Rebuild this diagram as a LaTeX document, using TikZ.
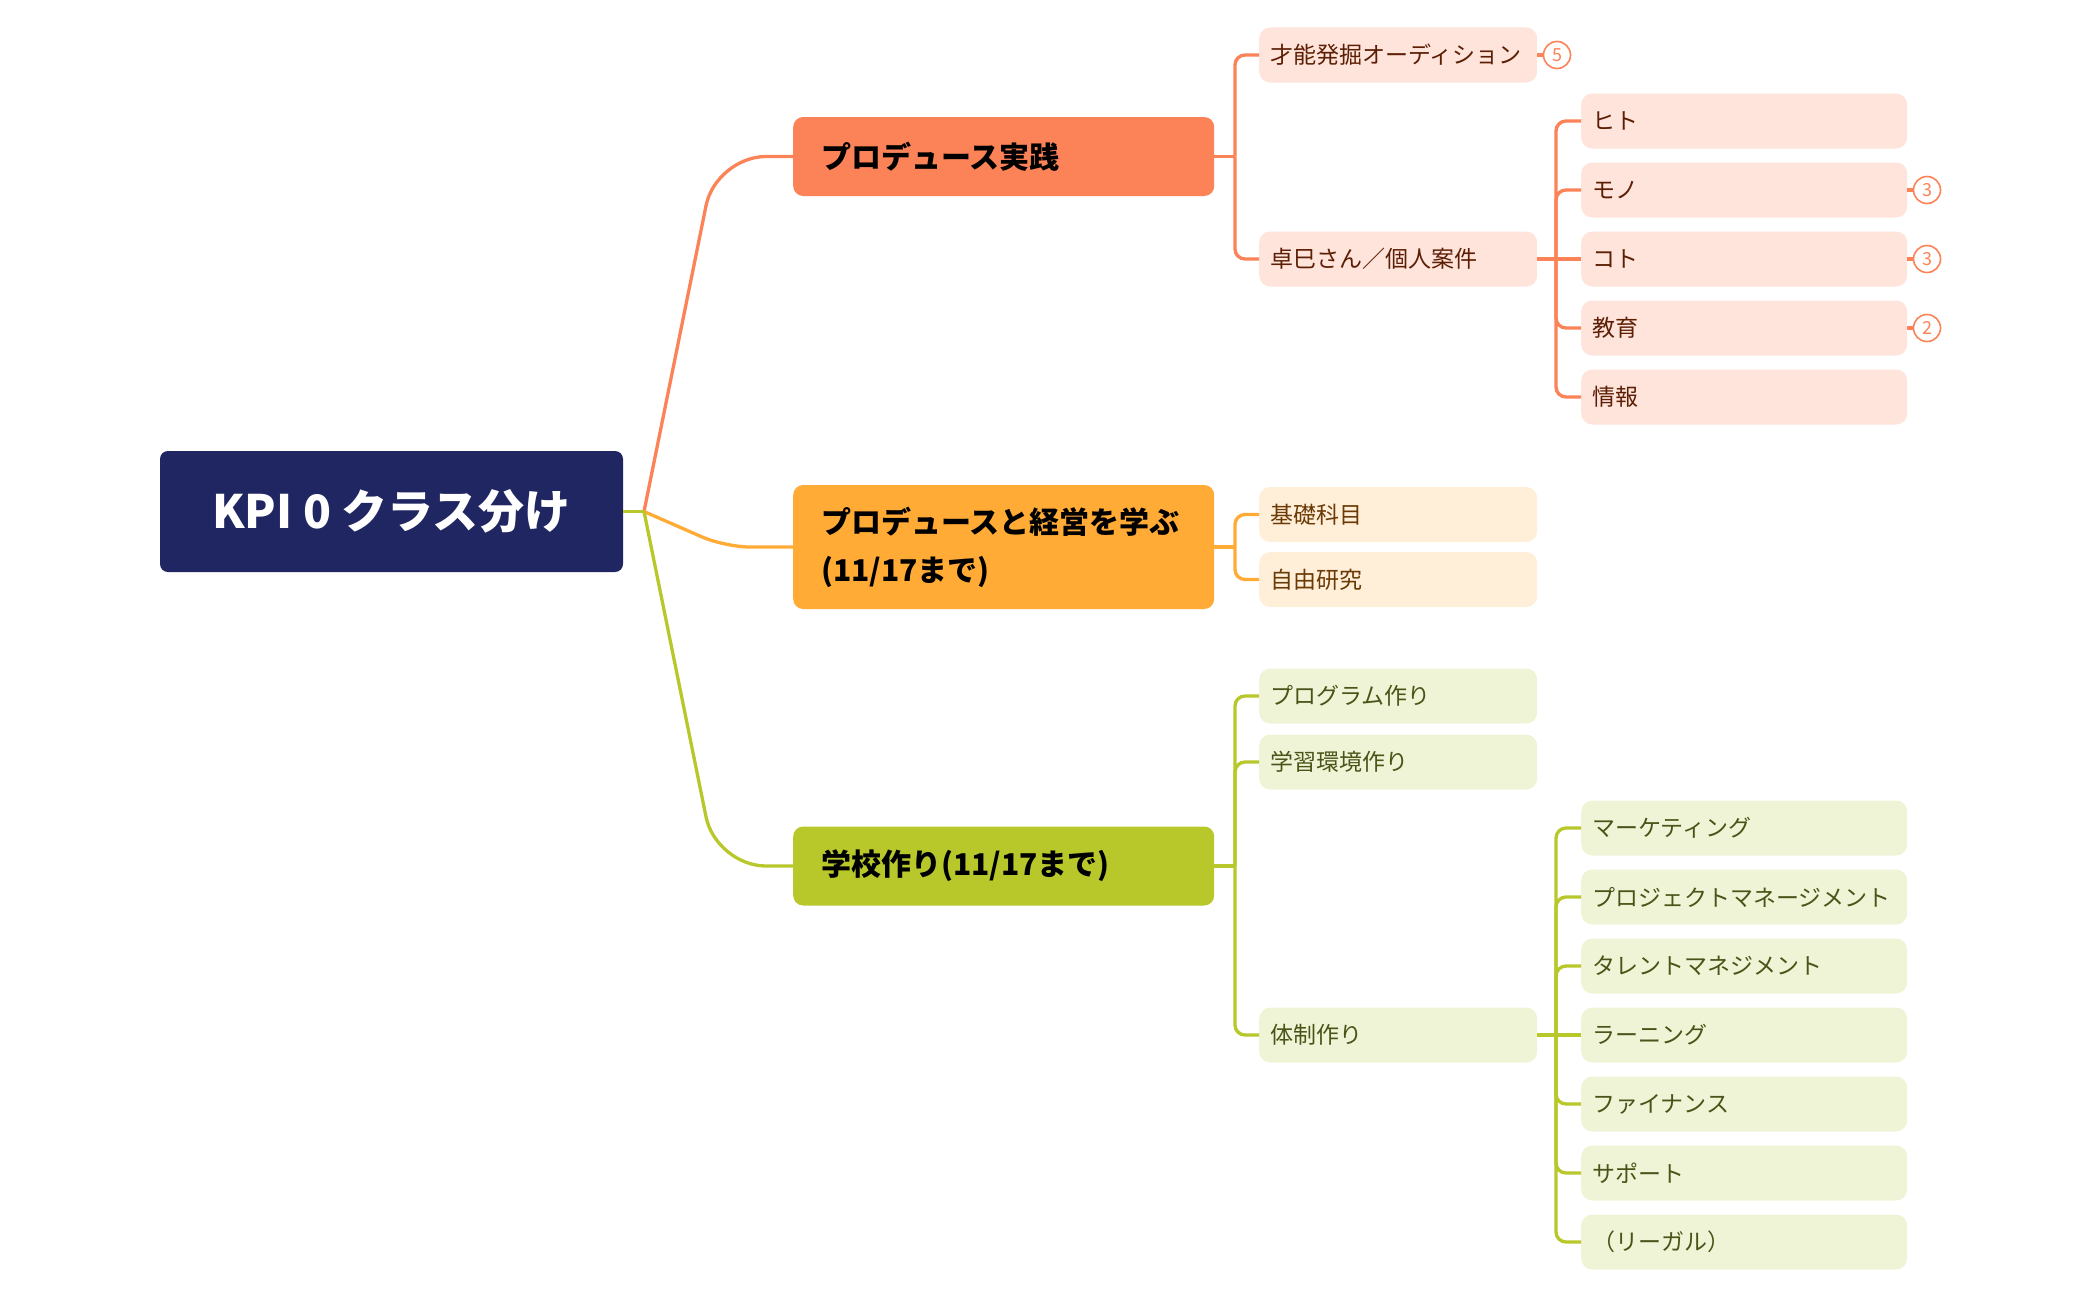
\documentclass[tikz,border=0pt]{standalone}
\usepackage{fontspec}
\setmainfont{Noto Sans CJK JP}

\definecolor{kpinavy}{HTML}{202662}
\definecolor{prodcoral}{HTML}{FC8257}
\definecolor{keieiorange}{HTML}{FFAB36}
\definecolor{schoolgreen}{HTML}{B8C82B}
\definecolor{prodlight}{HTML}{FEE4DA}
\definecolor{keieilight}{HTML}{FFEED8}
\definecolor{schoollight}{HTML}{F0F4D6}
\definecolor{prodtext}{HTML}{5C1E04}
\definecolor{keieitext}{HTML}{6B3A05}
\definecolor{schooltext}{HTML}{4A5418}

\begin{document}
\begin{tikzpicture}[x=1pt, y=-1pt,
  rootbox/.style={fill=kpinavy, text=white, rounded corners=8, minimum width=463, minimum height=121, inner sep=0, font=\fontsize{46}{55}\selectfont\bfseries},
  mainbox/.style={fill=#1, text=black, rounded corners=10, anchor=west, minimum height=79, text width=365, inner xsep=28, inner ysep=0, align=left, font=\fontsize{30}{48}\selectfont\bfseries},
  sub/.style={rounded corners=11, anchor=west, minimum height=55, text width=256, inner xsep=11, inner ysep=0, align=left, font=\fontsize{23}{28}\selectfont},
  leaf/.style={sub, text width=304},
  prodtone/.style={fill=prodlight, text=prodtext},
  keieitone/.style={fill=keieilight, text=keieitext},
  schooltone/.style={fill=schoollight, text=schooltext},
  link/.style={draw=#1, line width=3.3},
  badge/.style={circle, draw=prodcoral, fill=white, line width=1.6, minimum size=27, inner sep=0, text=prodcoral, font=\fontsize{18}{18}\selectfont}]
\useasboundingbox (0,0) rectangle (2100,1298);

\node[rootbox] (root) at (391.5,511.5) {KPI 0 クラス分け};
\coordinate (hub) at (644,511.5);

\node[mainbox=prodcoral] (prod) at (793,156.5) {プロデュース実践};
\node[mainbox=keieiorange, minimum height=124] (keiei) at (793,547) {プロデュースと経営を学ぶ\\(11/17まで)};
\node[mainbox=schoolgreen] (school) at (793,866) {学校作り(11/17まで)};

% root branches
\draw[link=prodcoral, rounded corners=50] (hub) -- (716,156.5) -- (prod.west);
\draw[link=keieiorange, rounded corners=25] (hub) -- (725,547) -- (keiei.west);
\draw[link=schoolgreen, rounded corners=50] (hub) -- (716,866) -- (school.west);
\draw[link=schoolgreen] (root.east) -- (hub);

% プロデュース実践
\node[sub, prodtone] (audition) at (1259,55) {才能発掘オーディション};
\node[sub, prodtone] (takumi) at (1259,259) {卓巳さん／個人案件};
\draw[link=prodcoral] (prod.east) -- (1235,156.5) coordinate (prodj);
\draw[link=prodcoral, rounded corners=10] (prodj) |- (audition.west);
\draw[link=prodcoral, rounded corners=10] (prodj) |- (takumi.west);

\node[leaf, prodtone] (hito) at (1581,121) {ヒト};
\node[leaf, prodtone] (mono) at (1581,190) {モノ};
\node[leaf, prodtone] (koto) at (1581,259) {コト};
\node[leaf, prodtone] (kyoiku) at (1581,328) {教育};
\node[leaf, prodtone] (joho) at (1581,397) {情報};
\draw[link=prodcoral] (takumi.east) -- (koto.west);
\coordinate (takumij) at (1556,259);
\draw[link=prodcoral, rounded corners=10] (takumij) |- (hito.west);
\draw[link=prodcoral, rounded corners=10] (takumij) |- (mono.west);
\draw[link=prodcoral, rounded corners=10] (takumij) |- (kyoiku.west);
\draw[link=prodcoral, rounded corners=10] (takumij) |- (joho.west);

% counts
\node[badge] (auditionnum) at (1557,55) {5};
\node[badge] (mononum) at (1927,190) {3};
\node[badge] (kotonum) at (1927,259) {3};
\node[badge] (kyoikunum) at (1927,328) {2};
\draw[link=prodcoral] (audition.east) -- (auditionnum.west);
\draw[link=prodcoral] (mono.east) -- (mononum.west);
\draw[link=prodcoral] (koto.east) -- (kotonum.west);
\draw[link=prodcoral] (kyoiku.east) -- (kyoikunum.west);

% プロデュースと経営を学ぶ
\node[sub, keieitone] (kiso) at (1259,514.5) {基礎科目};
\node[sub, keieitone] (jiyu) at (1259,579.5) {自由研究};
\draw[link=keieiorange] (keiei.east) -- (1235,547) coordinate (keieij);
\draw[link=keieiorange, rounded corners=10] (keieij) |- (kiso.west);
\draw[link=keieiorange, rounded corners=10] (keieij) |- (jiyu.west);

% 学校作り
\node[sub, schooltone] (program) at (1259,696) {プログラム作り};
\node[sub, schooltone] (kankyo) at (1259,762) {学習環境作り};
\node[sub, schooltone] (taisei) at (1259,1035) {体制作り};
\draw[link=schoolgreen] (school.east) -- (1235,866) coordinate (schoolj);
\draw[link=schoolgreen, rounded corners=10] (schoolj) |- (program.west);
\draw[link=schoolgreen, rounded corners=10] (schoolj) |- (kankyo.west);
\draw[link=schoolgreen, rounded corners=10] (schoolj) |- (taisei.west);

\node[leaf, schooltone] (marketing) at (1581,828) {マーケティング};
\node[leaf, schooltone] (pm) at (1581,897) {プロジェクトマネージメント};
\node[leaf, schooltone] (talent) at (1581,966) {タレントマネジメント};
\node[leaf, schooltone] (learning) at (1581,1035) {ラーニング};
\node[leaf, schooltone] (finance) at (1581,1104) {ファイナンス};
\node[leaf, schooltone] (support) at (1581,1173) {サポート};
\node[leaf, schooltone] (legal) at (1581,1242) {（リーガル）};
\draw[link=schoolgreen] (taisei.east) -- (learning.west);
\coordinate (taiseij) at (1556,1035);
\draw[link=schoolgreen, rounded corners=10] (taiseij) |- (marketing.west);
\draw[link=schoolgreen, rounded corners=10] (taiseij) |- (pm.west);
\draw[link=schoolgreen, rounded corners=10] (taiseij) |- (talent.west);
\draw[link=schoolgreen, rounded corners=10] (taiseij) |- (finance.west);
\draw[link=schoolgreen, rounded corners=10] (taiseij) |- (support.west);
\draw[link=schoolgreen, rounded corners=10] (taiseij) |- (legal.west);
\end{tikzpicture}
\end{document}
